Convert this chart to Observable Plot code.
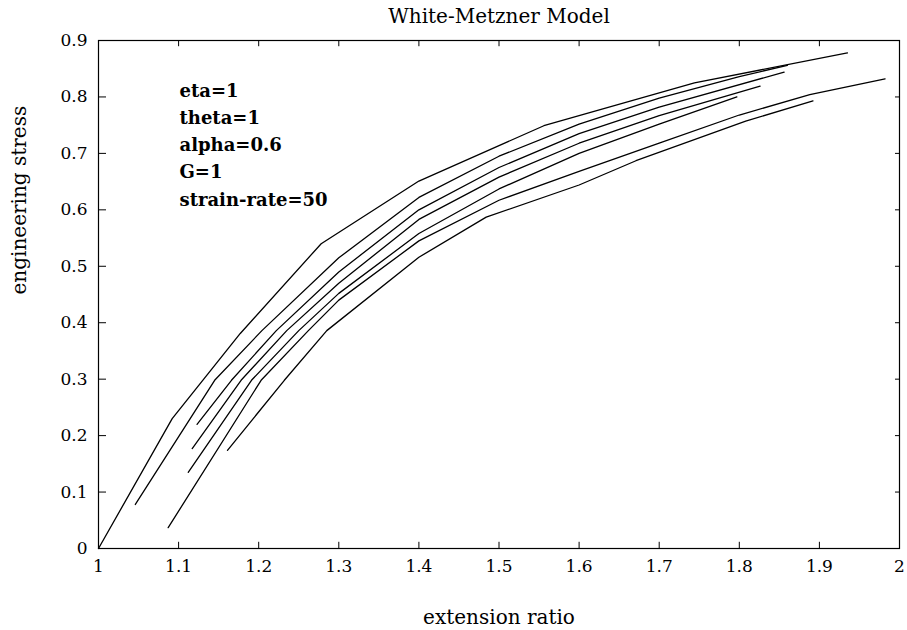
<!DOCTYPE html>
<html><head><meta charset="utf-8">
<script src="https://cdn.jsdelivr.net/npm/d3@7"></script>
<script src="https://cdn.jsdelivr.net/npm/@observablehq/plot@0.6"></script>
<style>body{margin:0;background:#fff} svg{display:block}</style>
</head><body><div id="chart"></div>
<script>
const title = "White-Metzner Model";
const xLabel = "extension ratio";
const yLabel = "engineering stress";
const params = ["eta=1", "theta=1", "alpha=0.6", "G=1", "strain-rate=50"];
const xTicks = [1, 1.1, 1.2, 1.3, 1.4, 1.5, 1.6, 1.7, 1.8, 1.9, 2];
const yTicks = [0, 0.1, 0.2, 0.3, 0.4, 0.5, 0.6, 0.7, 0.8, 0.9];

const curveA = [[1,0],[1.092,0.23],[1.177,0.381],[1.278,0.54],[1.40,0.651],[1.556,0.749],[1.744,0.825],[1.935,0.878]];
const curveB = [[1.046,0.078],[1.145,0.298],[1.204,0.386],[1.30,0.515],[1.40,0.622],[1.50,0.695],[1.60,0.752],[1.70,0.798],[1.80,0.836],[1.86,0.856]];
const curveF = [[1.123,0.22],[1.166,0.298],[1.222,0.386],[1.30,0.49],[1.40,0.60],[1.50,0.675],[1.60,0.735],[1.70,0.782],[1.856,0.844]];
const curveE = [[1.117,0.177],[1.178,0.298],[1.235,0.386],[1.30,0.47],[1.40,0.583],[1.50,0.658],[1.60,0.718],[1.70,0.767],[1.826,0.819]];
const curveD = [[1.112,0.135],[1.191,0.298],[1.25,0.386],[1.30,0.452],[1.40,0.558],[1.50,0.637],[1.60,0.70],[1.70,0.752],[1.797,0.80]];
const curveC = [[1.087,0.037],[1.203,0.298],[1.262,0.386],[1.30,0.44],[1.40,0.545],[1.50,0.617],[1.60,0.668],[1.70,0.718],[1.80,0.768],[1.888,0.804],[1.982,0.832]];
const curveG = [[1.161,0.174],[1.232,0.298],[1.285,0.386],[1.40,0.516],[1.484,0.587],[1.60,0.644],[1.671,0.687],[1.808,0.757],[1.892,0.793]];

const curves = [curveA, curveB, curveF, curveE, curveD, curveC, curveG];
const rows = curves.flatMap((c, k) => c.map(([x, y]) => ({x, y, k})));

const font = "DejaVu Serif";
const chart = Plot.plot({
  width: 907,
  height: 630,
  marginLeft: 98,
  marginRight: 8,
  marginTop: 40,
  marginBottom: 82,
  style: {fontFamily: font, background: "white", color: "black"},
  x: {domain: [1, 2]},
  y: {domain: [0, 0.9]},
  marks: [
    Plot.frame({stroke: "black", strokeWidth: 1.2}),
    Plot.ruleX(xTicks, {x: d => d, y1: 0, y2: 0.011, stroke: "black"}),
    Plot.ruleX(xTicks, {x: d => d, y1: 0.9, y2: 0.889, stroke: "black"}),
    Plot.ruleY(yTicks, {y: d => d, x1: 1, x2: 1.01, stroke: "black"}),
    Plot.ruleY(yTicks, {y: d => d, x1: 2, x2: 1.995, stroke: "black"}),
    Plot.axisX(xTicks, {tickSize: 0, tickPadding: 11, tickFormat: d => String(d), fontSize: 17, label: null}),
    Plot.axisY(yTicks, {tickSize: 0, tickPadding: 11, tickFormat: d => String(d), fontSize: 17, label: null}),
    Plot.line(rows, {x: "x", y: "y", z: "k", stroke: "black", strokeWidth: 1.3}),
    Plot.text([title], {frameAnchor: "top", dy: -24, fontSize: 20, lineAnchor: "middle"}),
    Plot.text([xLabel], {frameAnchor: "bottom", dy: 69, fontSize: 20, lineAnchor: "middle"}),
    Plot.text([yLabel], {frameAnchor: "left", dx: -79, rotate: -90, fontSize: 20, lineAnchor: "middle"}),
    Plot.text([params.join("\n")], {frameAnchor: "top-left", dx: 81, dy: 37, lineAnchor: "top", textAnchor: "start", fontSize: 18, fontWeight: "bold", lineHeight: 1.51})
  ]
});
document.getElementById("chart").appendChild(chart);
</script>
</body></html>
